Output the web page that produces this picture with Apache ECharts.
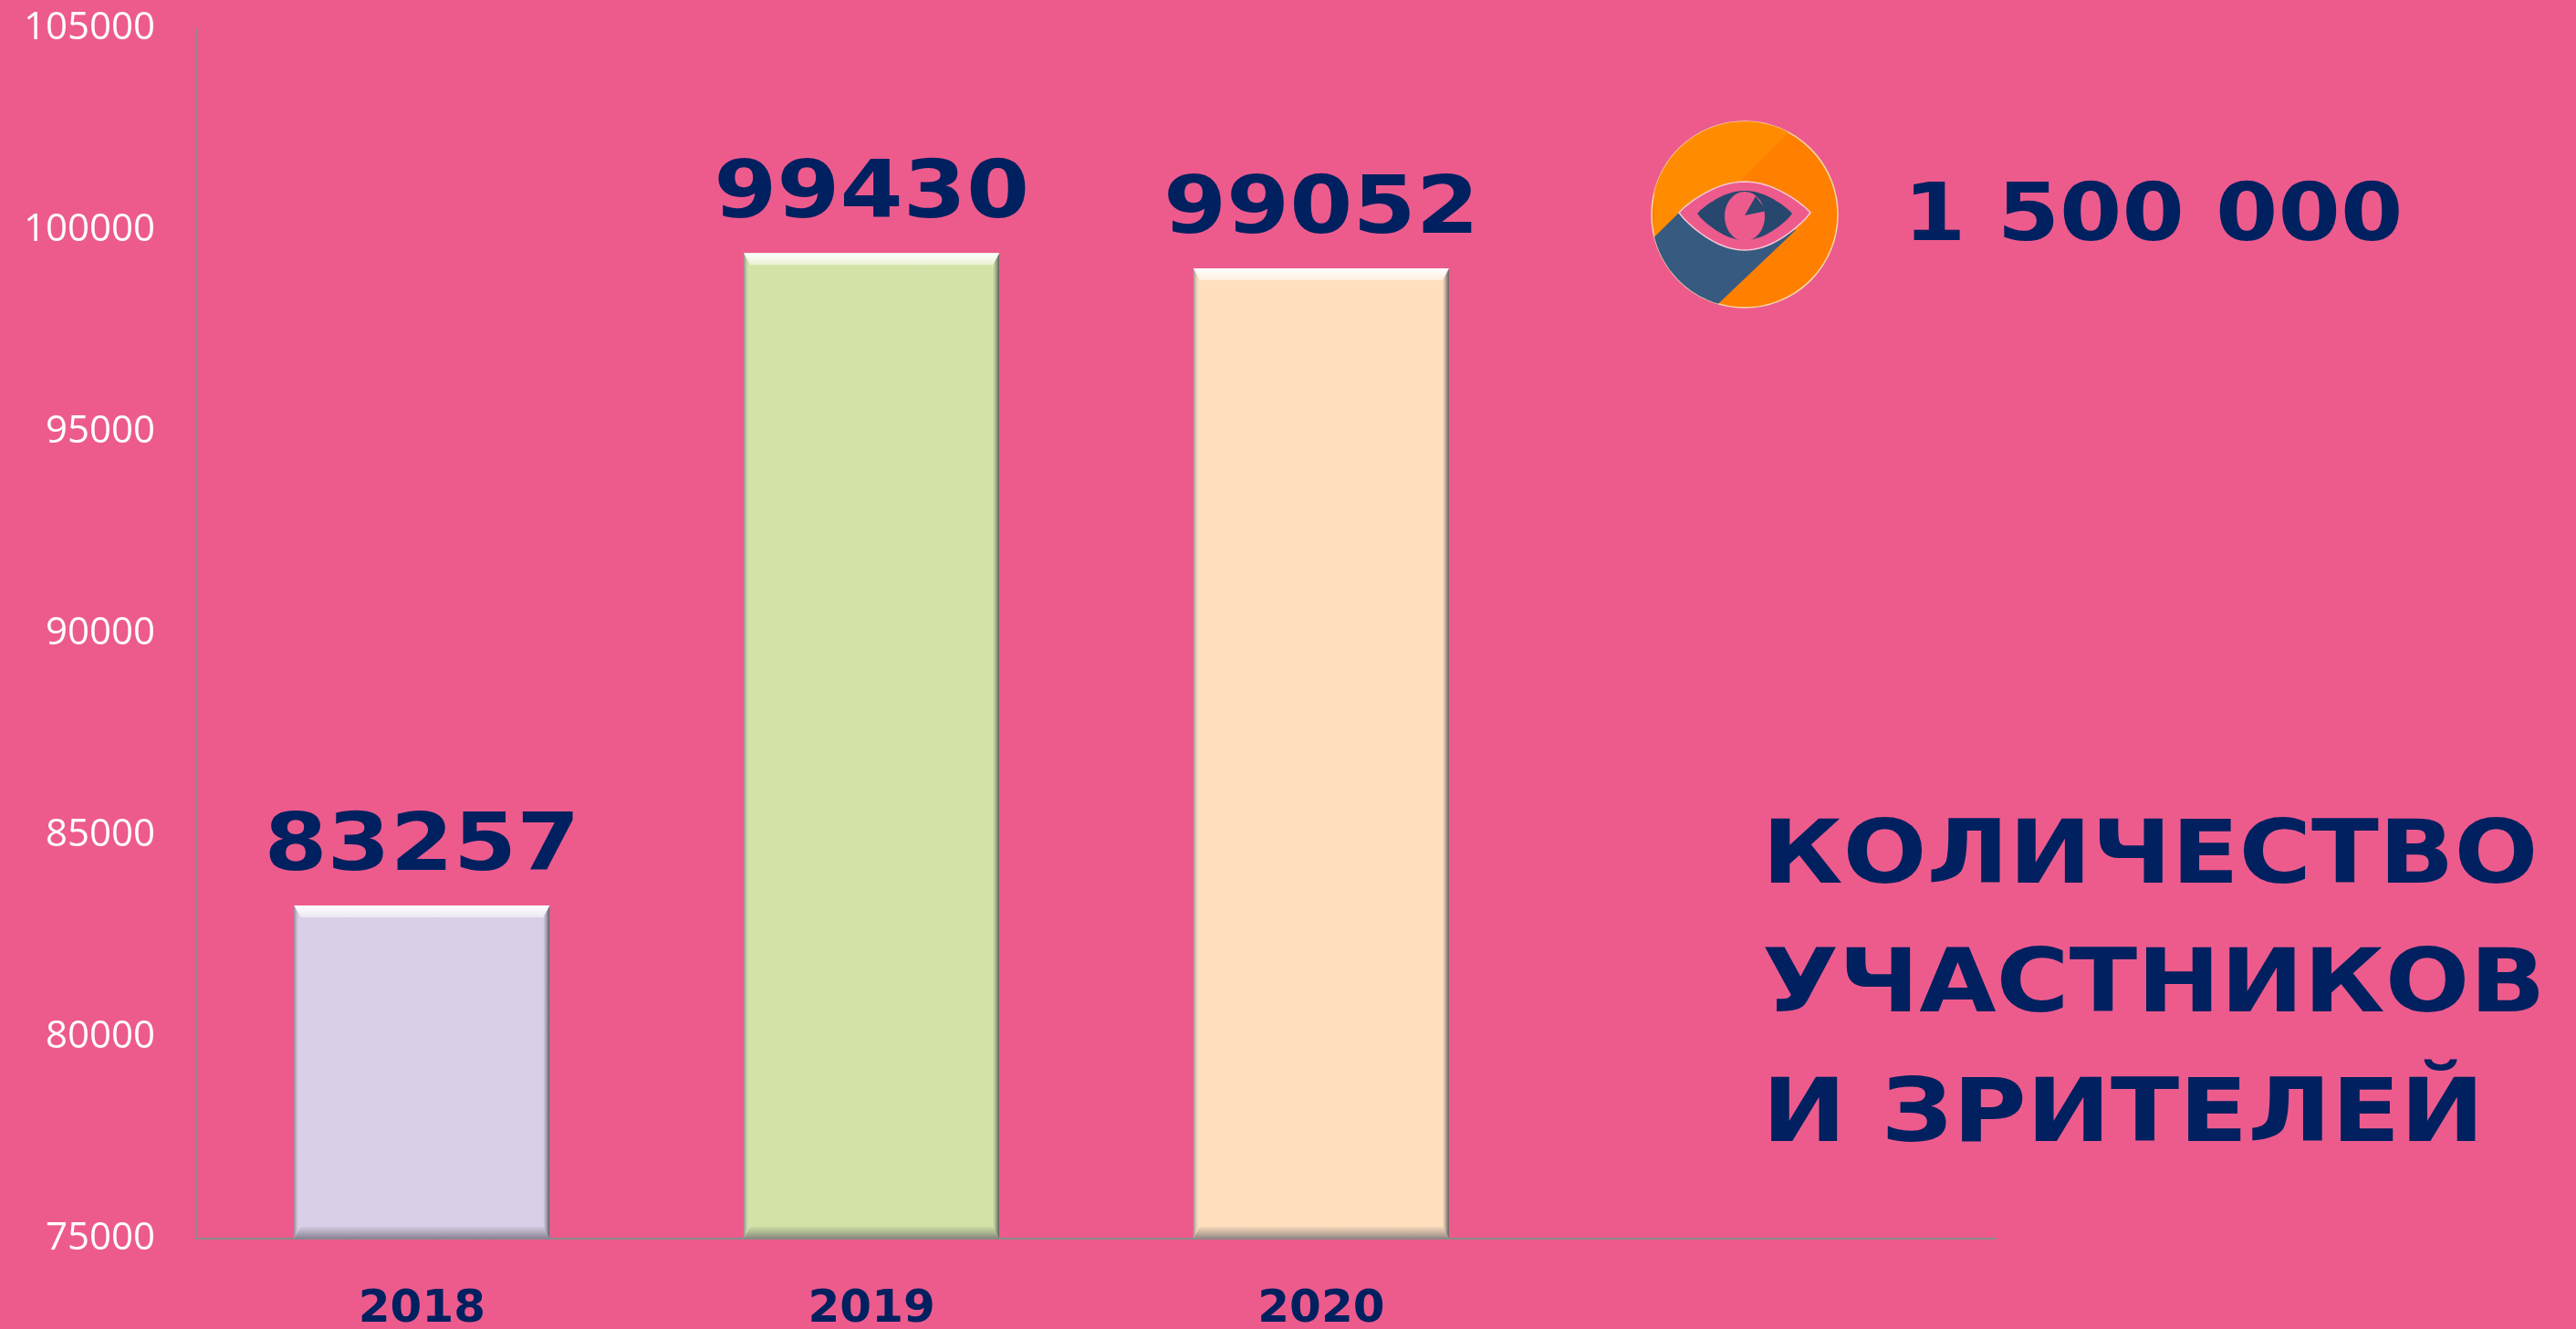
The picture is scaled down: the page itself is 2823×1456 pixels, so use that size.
<!DOCTYPE html>
<html>
<head>
<meta charset="utf-8">
<title>Количество участников и зрителей</title>
<script src="https://cdn.jsdelivr.net/npm/echarts@6/dist/echarts.min.js"></script>
<style>
  html, body { margin: 0; padding: 0; background: #ed5b8d; }
  #chart { width: 2823px; height: 1456px; }
</style>
</head>
<body>
<div id="chart"></div>
<script>
const categories = ['2018', '2019', '2020', '']
const visitors = [83257, 99430, 99052, null]
const barColors = ['#d9cfe7', '#d3e3a7', '#ffdfbe']
const titleLines = ['КОЛИЧЕСТВО', 'УЧАСТНИКОВ', 'И ЗРИТЕЛЕЙ']
const totalText = '1 500 000'

const navy = '#00205f'
const pink = '#ed5b8d'
const barWidth = 280
const boldFont = '"DejaVu Sans"'

function fade(x, y, x2, y2, from, to) {
  return {
    type: 'linear', x: x, y: y, x2: x2, y2: y2,
    colorStops: [{ offset: 0, color: from }, { offset: 1, color: to }]
  }
}

// bevel edges and the value above each bar
function renderBevel(params, api) {
  const value = api.value(1)
  const top = api.coord([api.value(0), value])
  const base = api.coord([api.value(0), 75000])
  const x0 = top[0] - barWidth / 2
  const x1 = top[0] + barWidth / 2
  const y0 = top[1]
  const y1 = base[1]
  const b = 13
  const side = 7
  return {
    type: 'group',
    children: [
      { type: 'polygon', shape: { points: [[x0, y0], [x0 + side, y0 + b], [x0 + side, y1 - b], [x0, y1]] },
        style: { fill: fade(0, 0, 1, 0, 'rgba(95,95,105,0.6)', 'rgba(255,255,255,0.02)') } },
      { type: 'polygon', shape: { points: [[x1, y0], [x1 - side, y0 + b], [x1 - side, y1 - b], [x1, y1]] },
        style: { fill: fade(1, 0, 0, 0, 'rgba(65,65,75,0.85)', 'rgba(120,120,120,0.02)') } },
      { type: 'polygon', shape: { points: [[x0, y1], [x0 + side, y1 - b], [x1 - side, y1 - b], [x1, y1]] },
        style: { fill: fade(0, 1, 0, 0, 'rgba(90,85,100,0.65)', 'rgba(120,120,120,0.1)') } },
      { type: 'polygon', shape: { points: [[x0, y0], [x1, y0], [x1 - side, y0 + b], [x0 + side, y0 + b]] },
        style: { fill: fade(0, 0, 0, 1, 'rgba(255,255,255,1)', 'rgba(255,255,255,0.5)') } },
      { type: 'text', x: top[0], y: y0 - 18, scaleX: 1.13,
        style: { text: String(value), fill: navy, font: 'bold 88px ' + boldFont, align: 'center', verticalAlign: 'bottom' } }
    ]
  }
}

// logo outline helpers
const logoCx = 1912
const logoCy = 235
const logoR = 102

function arcPoints(fromDeg, toDeg) {
  const pts = []
  for (let i = 0; i <= 40; i++) {
    const a = (fromDeg + (toDeg - fromDeg) * i / 40) * Math.PI / 180
    pts.push([logoCx + logoR * Math.cos(a), logoCy + logoR * Math.sin(a)])
  }
  return pts
}

function almond(left, right, y, topY, bottomY) {
  const pts = []
  for (let i = 0; i <= 30; i++) {
    const t = i / 30
    pts.push([left + (right - left) * t, y + Math.pow(Math.sin(Math.PI * t), 0.85) * (topY - y)])
  }
  for (let i = 30; i >= 0; i--) {
    const t = i / 30
    pts.push([left + (right - left) * t, y + Math.pow(Math.sin(Math.PI * t), 0.85) * (bottomY - y)])
  }
  return pts
}

const logo = [
  { type: 'circle', shape: { cx: logoCx, cy: logoCy, r: logoR }, style: { fill: '#ff7f00', stroke: '#f5d9a8', lineWidth: 1.5 } },
  // lighter upper-left band
  { type: 'polygon', shape: { points: arcPoints(194, 298).concat([[1900, 205], [1840, 233], [1813, 259]]) }, style: { fill: '#ff8c00' } },
  // blue lower-left part
  { type: 'polygon', shape: { points: arcPoints(166, 106.5).concat([[1968, 252], [1840, 233]]) }, style: { fill: '#375a80' } },
  // eye
  { type: 'polygon', shape: { points: almond(1840, 1984, 233, 199, 274) }, style: { fill: pink, stroke: '#f6c9d6', lineWidth: 1.5 } },
  { type: 'polygon', shape: { points: almond(1860, 1964, 234, 209, 263) }, style: { fill: '#27476e' } },
  { type: 'ellipse', shape: { cx: 1912, cy: 237, rx: 22, ry: 27 }, style: { fill: pink } },
  { type: 'polygon', shape: { points: [[1912, 236], [1936, 231], [1924, 215]] }, style: { fill: '#27476e' } }
]

const titleTexts = titleLines.map(function (line, i) {
  return {
    type: 'text', x: 1931, y: 942 + i * 141.5, scaleX: [1.128, 1.136, 1.148][i],
    style: { text: line, fill: navy, font: 'bold 96px ' + boldFont, align: 'left', verticalAlign: 'middle' }
  }
})

const chart = echarts.init(document.getElementById('chart'))

chart.setOption({
  backgroundColor: pink,
  animation: false,
  grid: { left: 216, right: 636, top: 31, bottom: 99, outerBoundsMode: 'none' },
  xAxis: {
    type: 'category',
    data: categories,
    axisTick: { show: false },
    axisLine: { lineStyle: { color: '#8a8a8a', width: 2 } },
    axisLabel: { color: navy, fontFamily: boldFont, fontWeight: 'bold', fontSize: 50, margin: 53 }
  },
  yAxis: {
    type: 'value',
    min: 75000,
    max: 105000,
    interval: 5000,
    splitLine: { show: false },
    axisTick: { show: false },
    axisLine: { show: true, lineStyle: { color: '#8a8a8a', width: 2 } },
    axisLabel: {
      color: '#ffffff',
      fontFamily: '"Open Sans"',
      fontSize: 42,
      margin: 46,
      padding: [16, 0, 0, 0],
      formatter: function (value) { return String(value) }
    }
  },
  graphic: logo.concat(titleTexts, [
    { type: 'text', x: 2086, y: 240, scaleX: 1.13,
      style: { text: totalText, fill: navy, font: 'bold 87px ' + boldFont, align: 'left', verticalAlign: 'middle' } }
  ]),
  series: [
    {
      type: 'bar',
      barWidth: barWidth,
      silent: true,
      data: visitors.map(function (v, i) {
        return { value: v, itemStyle: { color: barColors[i] } }
      })
    },
    {
      type: 'custom',
      silent: true,
      z: 5,
      renderItem: renderBevel,
      data: visitors.filter(function (v) { return v !== null }).map(function (v, i) { return [i, v] })
    }
  ]
})
</script>
</body>
</html>
